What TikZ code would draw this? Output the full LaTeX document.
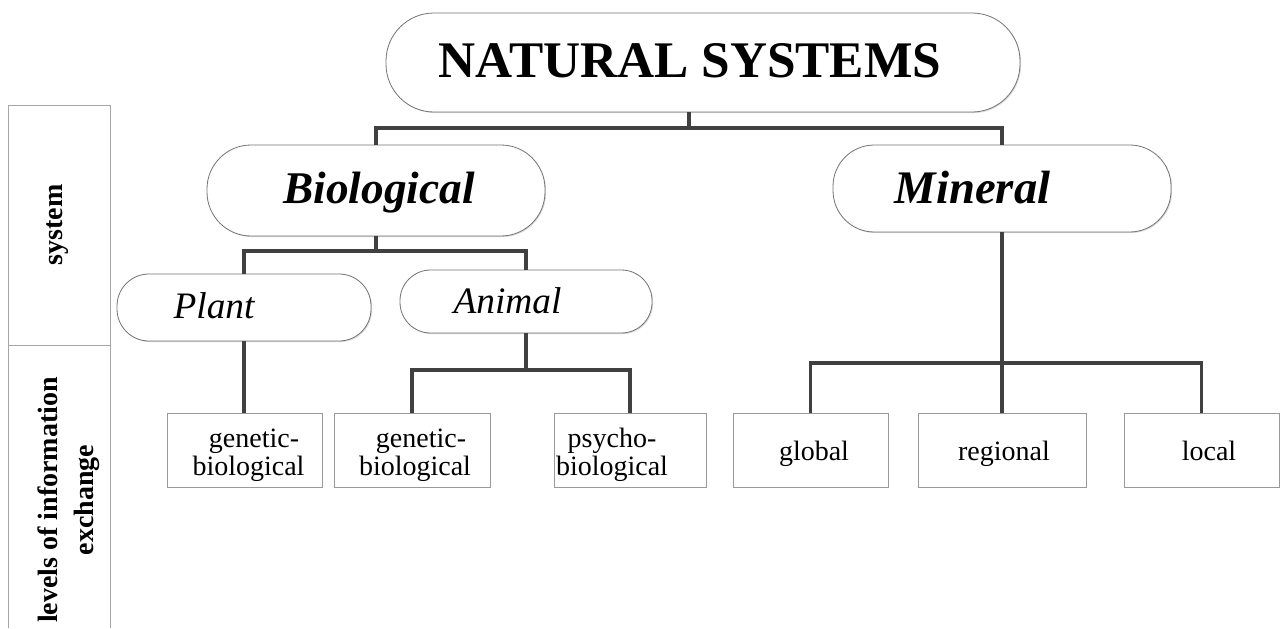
\documentclass[tikz,border=0pt]{standalone}
\usepackage{fontspec}
\setmainfont{Liberation Serif}
\usetikzlibrary{shadows}
\begin{document}
\begin{tikzpicture}[x=0.75pt,y=-0.75pt,
  pill/.style={draw=black!55, line width=0.6pt, fill=white, inner sep=0pt,
    drop shadow={shadow xshift=0.8pt, shadow yshift=-0.8pt, fill=black!25, opacity=0.6}},
  leaf/.style={draw=black!40, line width=0.6pt, fill=white, inner sep=0pt,
    minimum height=55.5pt,
    drop shadow={shadow xshift=0.8pt, shadow yshift=-0.8pt, fill=black!20, opacity=0.6}},
  lt/.style={anchor=base, inner sep=0pt, font=\fontsize{21}{21}\selectfont},
  conn/.style={draw=black!75, line width=2.3pt},
  grid/.style={draw=black!35, line width=0.6pt},
  coltext/.style={rotate=90, align=center, font=\bfseries\fontsize{21}{27}\selectfont},
]
\useasboundingbox (0,0) rectangle (1280,628);

% left column
\draw[grid] (8,628) -- (8,105) -- (110,105) -- (110,628);
\draw[grid] (8,345) -- (110,345);
\node[coltext] (sys) at (58,225) {system};
\node[coltext] (lev) at (69,500) {levels of information\\exchange};

% pills
\node[pill, minimum width=475.5pt, minimum height=74.25pt, rounded corners=36pt] (ns) at (703,62.5) {};
\node[anchor=base, inner sep=0pt, font=\bfseries\fontsize{38.5}{40}\selectfont] (nsT) at (690,77) {NATURAL SYSTEMS};

\node[pill, minimum width=253.5pt, minimum height=68.25pt, rounded corners=33pt] (bio) at (376,190.5) {};
\node[anchor=base, inner sep=0pt, font=\bfseries\itshape\fontsize{34}{38}\selectfont] (bioT) at (379,203) {Biological};

\node[pill, minimum width=253.5pt, minimum height=65.25pt, rounded corners=31pt] (min) at (1002,188.5) {};
\node[anchor=base, inner sep=0pt, font=\bfseries\itshape\fontsize{35}{38}\selectfont] (minT) at (972.5,203) {Mineral};

\node[pill, minimum width=190.5pt, minimum height=50.25pt, rounded corners=24pt] (plant) at (244,307.5) {};
\node[anchor=base, inner sep=0pt, font=\itshape\fontsize{28}{30}\selectfont] (plantT) at (214,318) {Plant};

\node[pill, minimum width=189pt, minimum height=47.25pt, rounded corners=23pt] (animal) at (526,301.5) {};
\node[anchor=base, inner sep=0pt, font=\itshape\fontsize{28}{30}\selectfont] (animalT) at (507.5,313) {Animal};

% leaves
\node[leaf, minimum width=116.25pt] (g1) at (244.5,450) {};
\node[lt] (g1a) at (254,447) {genetic-};
\node[lt] (g1b) at (248.5,475) {biological};

\node[leaf, minimum width=117pt] (g2) at (412,450) {};
\node[lt] (g2a) at (421,447) {genetic-};
\node[lt] (g2b) at (415,475) {biological};

\node[leaf, minimum width=114pt] (p3) at (630,450) {};
\node[lt] (p3a) at (612,447) {psycho-};
\node[lt] (p3b) at (612,475) {biological};

\node[leaf, minimum width=116.25pt] (glob) at (810.5,450) {};
\node[lt] (globT) at (814,460) {global};

\node[leaf, minimum width=126pt] (reg) at (1002,450) {};
\node[lt] (regT) at (1004,460) {regional};

\node[leaf, minimum width=116.25pt] (loc) at (1201.5,450) {};
\node[lt] (locT) at (1209,460) {local};

% junctions
\coordinate (j1) at (689,128);
\coordinate (j2) at (376,251);
\coordinate (j3) at (526,370);
\coordinate (j4) at (1002,363);

% connectors
\draw[conn] (ns.south -| j1) -- (j1);
\draw[conn] (bio.north) |- (j1) -| (min.north);
\draw[conn] (bio.south) -- (j2);
\draw[conn] (plant.north) |- (j2) -| (animal.north);
\draw[conn] (plant.south) -- (plant.south |- g1.north);
\draw[conn] (animal.south) -- (j3);
\draw[conn] (g2.north) |- (j3) -| (p3.north);
\draw[conn] (min.south) -- (reg.north);
\draw[conn] (glob.north) |- (j4) -| (loc.north);
\end{tikzpicture}
\end{document}
